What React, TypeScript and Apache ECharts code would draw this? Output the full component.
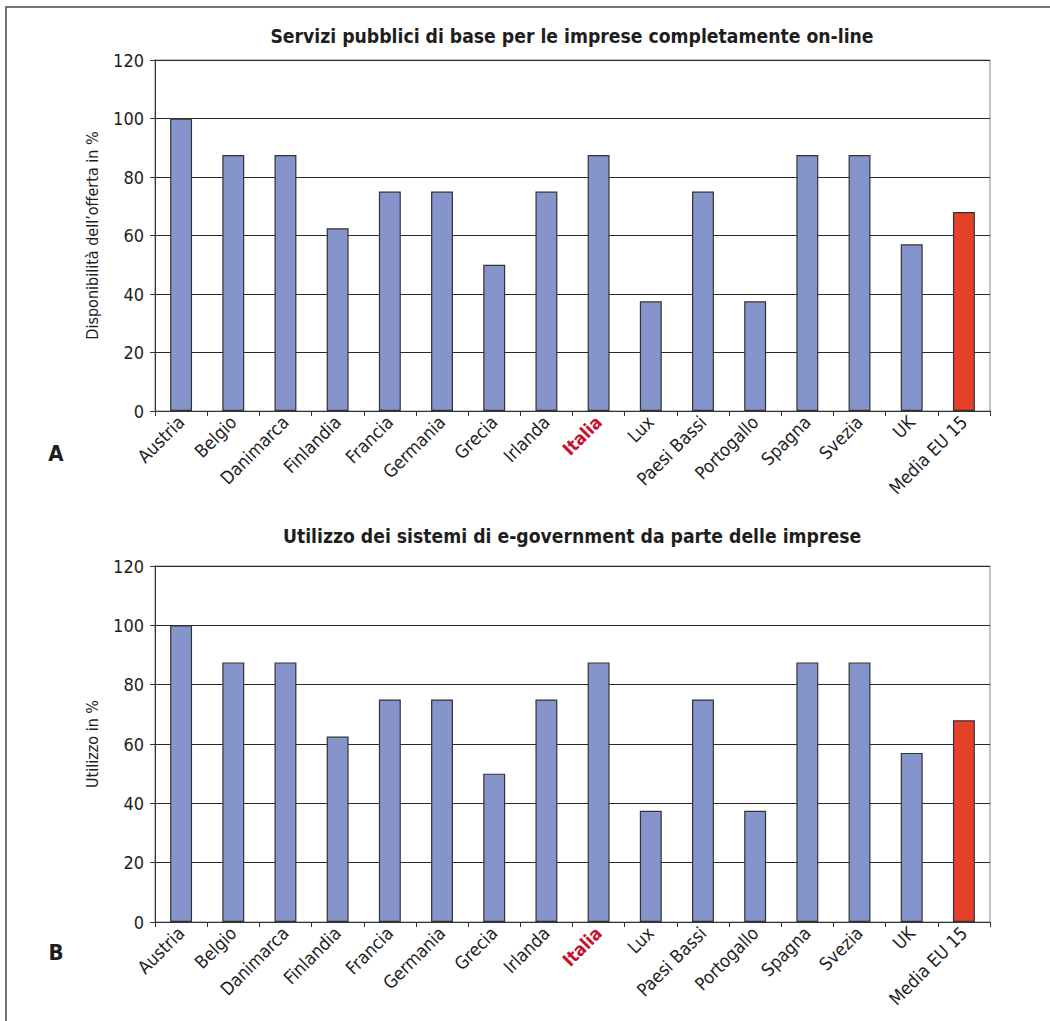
import React, { useEffect, useRef } from "react";
import * as echarts from "echarts";

const categories = [
  "Austria", "Belgio", "Danimarca", "Finlandia", "Francia", "Germania", "Grecia", "Irlanda",
  "Italia", "Lux", "Paesi Bassi", "Portogallo", "Spagna", "Svezia", "UK", "Media EU 15",
];
const offertaValues = [100, 87.5, 87.5, 62.5, 75, 75, 50, 75, 87.5, 37.5, 75, 37.5, 87.5, 87.5, 57, 68];
const utilizzoValues = [100, 87.5, 87.5, 62.5, 75, 75, 50, 75, 87.5, 37.5, 75, 37.5, 87.5, 87.5, 57, 68];
const titleA = "Servizi pubblici di base per le imprese completamente on-line";
const titleB = "Utilizzo dei sistemi di e-government da parte delle imprese";
const yNameA = "Disponibilità dell\u2019offerta in %";
const yNameB = "Utilizzo in %";
const highlightCategory = "Italia";
const averageCategory = "Media EU 15";

const FONT = "'DejaVu Sans Condensed', 'Liberation Sans Narrow', sans-serif";
const TEXT = "#1e1e1e";
const BLUE = "#8594ca";
const RED = "#e4402a";

export default function App() {
  const ref = useRef<HTMLDivElement>(null);

  useEffect(() => {
    if (!ref.current) return;
    const chart = echarts.init(ref.current, null, { renderer: "svg" });

    const xAxisFor = (gridIndex: number) => ({
      type: "category" as const,
      gridIndex,
      data: categories,
      axisLine: { lineStyle: { color: "#333", width: 1 } },
      axisTick: { show: true, length: 5, lineStyle: { color: "#333" } },
      axisLabel: {
        rotate: 45,
        interval: 0,
        margin: 8,
        fontFamily: FONT,
        fontSize: 18,
        color: TEXT,
        formatter: (v: string) => (v === highlightCategory ? `{hl|${v}}` : v),
        rich: {
          hl: { color: "#c8102e", fontWeight: "bold", fontFamily: FONT, fontSize: 18 },
        },
      },
    });

    const yAxisFor = (gridIndex: number, name: string) => ({
      type: "value" as const,
      gridIndex,
      min: 0,
      max: 120,
      interval: 20,
      name,
      nameLocation: "middle" as const,
      nameRotate: 90,
      nameGap: 55,
      nameTextStyle: { fontFamily: FONT, fontSize: 16, color: TEXT },
      axisLine: { show: true, lineStyle: { color: "#333", width: 1 } },
      axisTick: { show: true, length: 5, lineStyle: { color: "#333" } },
      axisLabel: { margin: 11, fontFamily: FONT, fontSize: 18, color: TEXT },
      splitLine: { show: true, lineStyle: { color: "#2a2a2a", width: 1 } },
    });

    const seriesFor = (index: number, values: number[]) => ({
      type: "bar" as const,
      xAxisIndex: index,
      yAxisIndex: index,
      barWidth: "42%",
      data: values.map((v, i) => ({
        value: v,
        itemStyle: {
          color: categories[i] === averageCategory ? RED : BLUE,
          borderColor: "#333",
          borderWidth: 1.2,
        },
      })),
    });

    const label = (text: string, x: number, y: number, fontSize: number) => ({
      type: "text" as const,
      x,
      y,
      style: {
        text,
        textAlign: "center",
        textVerticalAlign: "middle",
        fontFamily: FONT,
        fontWeight: "bold",
        fontSize,
        fill: TEXT,
      },
    });

    chart.setOption({
      animation: false,
      backgroundColor: "#ffffff",
      grid: [
        { left: 155, top: 60, width: 835, height: 351, show: true, borderColor: "#888", borderWidth: 1 },
        { left: 155, top: 566, width: 835, height: 356, show: true, borderColor: "#888", borderWidth: 1 },
      ],
      xAxis: [xAxisFor(0), xAxisFor(1)],
      yAxis: [yAxisFor(0, yNameA), yAxisFor(1, yNameB)],
      series: [seriesFor(0, offertaValues), seriesFor(1, utilizzoValues)],
      graphic: [
        {
          type: "rect",
          shape: { x: 6, y: 7, width: 1200, height: 1200 },
          style: { fill: "none", stroke: "#444", lineWidth: 1.5 },
          silent: true,
        },
        label(titleA, 572, 36, 19.2),
        label(titleB, 572, 536, 19.2),
        label("A", 56, 453, 22),
        label("B", 56, 952, 22),
      ],
    });

    return () => chart.dispose();
  }, []);

  return (
    <div
      ref={ref}
      style={{ position: "absolute", left: 0, top: 0, width: 1050, height: 1021, background: "#fff" }}
    />
  );
}
